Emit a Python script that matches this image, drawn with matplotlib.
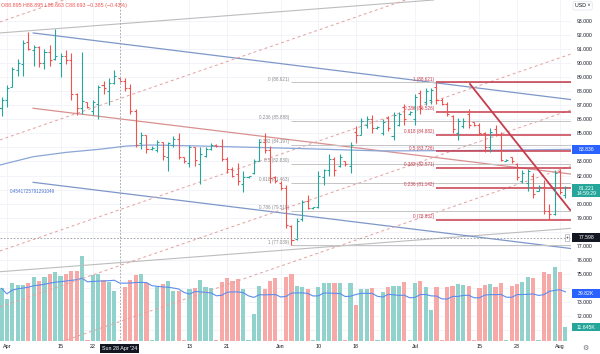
import numpy as np
import pandas as pd
import matplotlib
matplotlib.use('Agg')
import matplotlib.pyplot as plt
from matplotlib.collections import LineCollection
from matplotlib.patches import Rectangle
from matplotlib.transforms import blended_transform_factory as blend

plt.rcParams['font.family'] = ['Liberation Sans', 'DejaVu Sans']

# bar dates: weekdays only until 19 Apr, Sunday sessions afterwards
first = [pd.Timestamp('2024-03-28')]
early = list(pd.bdate_range('2024-04-01', '2024-04-19'))
late = [d for d in pd.date_range('2024-04-21', '2024-08-02') if d.weekday() != 5]
dates = first + early + late

opens = [86.8, 87.4, 88.3, 89.5, 89.9, 91.5, 90.9, 91.1, 90.0, 90.8,
         90.3, 90.0, 90.5, 90.2, 87.8, 86.8, 87.2, 86.6, 87.1, 88.4,
         88.0, 88.6, 88.895, 88.7, 88.2, 86.6, 84.3, 84.9, 83.9, 83.8,
         84.4, 83.3, 84.2, 84.6, 83.3, 82.9, 84.0, 82.8, 83.4, 83.9,
         84.2, 84.1, 83.2, 82.5, 82.1, 81.4, 81.9, 82.2, 83.0, 84.4,
         83.8, 81.9, 81.5, 81.1, 78.4, 77.5, 78.9, 80.2, 79.7, 79.8,
         81.9, 82.4, 83.2, 82.7, 83.0, 82.7, 85.1, 84.9, 85.6, 86.0,
         85.4, 85.0, 86.1, 84.8, 85.6, 86.9, 86.4, 86.0, 87.9, 87.2,
         87.4, 88.3, 87.4, 87.1, 86.2, 85.0, 85.5, 86.4, 85.8, 85.6,
         85.0, 84.0, 85.3, 84.9, 83.0, 83.3, 82.8, 81.6, 81.5, 82.0,
         80.9, 81.2, 79.5, 79.3, 82.3, 80.6]
highs = [87.6, 88.4, 89.7, 90.3, 91.6, 92.2, 91.3, 91.2, 91.0, 91.3,
         92.4, 90.7, 90.9, 90.7, 87.9, 90.8, 87.2, 87.4, 88.4, 88.7,
         88.9, 89.5, 88.895, 88.9, 88.5, 86.7, 85.1, 84.9, 84.1, 84.5,
         84.4, 84.4, 84.8, 85.0, 83.35, 84.2, 84.0, 84.0, 84.0, 84.3,
         84.25, 84.6, 83.3, 82.6, 82.9, 82.3, 82.0, 83.2, 84.6, 85.0,
         84.1, 82.0, 81.6, 81.3, 78.5, 79.0, 80.3, 80.6, 79.8, 82.3,
         82.5, 83.5, 83.3, 83.5, 83.0, 84.4, 85.5, 86.1, 86.2, 86.3,
         85.5, 86.0, 86.2, 86.5, 86.5, 87.1, 86.6, 87.8, 88.1, 88.2,
         88.2, 88.621, 87.5, 87.25, 86.3, 86.1, 86.1, 86.7, 85.8, 85.7,
         85.1, 85.4, 85.6, 85.1, 83.2, 83.35, 82.9, 82.4, 82.5, 82.2,
         81.3, 81.7, 80.0, 82.4, 82.5, 81.25]
lows = [86.2, 86.9, 88.3, 89.1, 89.1, 90.9, 89.8, 89.7, 89.6, 89.8,
        90.2, 89.0, 89.9, 87.4, 86.3, 86.4, 86.8, 86.3, 86.0, 87.8,
        87.0, 88.5, 88.663, 88.0, 86.4, 84.0, 83.9, 83.6, 83.8, 83.7,
        83.1, 82.3, 84.0, 83.2, 82.9, 82.6, 82.7, 81.4, 83.3, 83.8,
        84.0, 83.0, 82.2, 81.9, 81.3, 80.8, 81.8, 82.1, 83.0, 83.6,
        81.5, 81.5, 81.0, 78.3, 77.04, 77.4, 78.8, 79.6, 79.6, 79.7,
        81.3, 82.0, 82.0, 82.6, 82.7, 82.2, 84.3, 84.9, 85.4, 85.0,
        85.3, 84.9, 85.2, 84.5, 85.5, 85.6, 86.3, 85.6, 86.4, 87.0,
        87.1, 87.1, 87.0, 86.2, 85.0, 84.5, 85.4, 85.4, 85.5, 84.9,
        83.7, 83.7, 84.8, 83.0, 83.0, 82.9, 81.7, 81.45, 80.9, 80.4,
        80.9, 79.3, 78.832, 79.2, 80.7, 80.4]
closes = [87.4, 88.2, 89.6, 90.0, 91.4, 91.0, 91.1, 90.0, 90.8, 90.2,
          90.5, 90.5, 90.2, 87.8, 86.8, 87.3, 86.9, 87.2, 88.3, 88.2,
          88.6, 89.078, 88.693, 88.2, 86.6, 84.2, 84.9, 83.9, 83.95, 84.4,
          83.4, 84.3, 84.6, 83.3, 83.0, 84.0, 83.1, 83.5, 83.9, 84.2,
          84.1, 83.2, 82.5, 82.0, 81.6, 81.9, 82.0, 83.0, 84.4, 83.8,
          81.8, 81.6, 81.1, 78.5, 77.4, 78.8, 80.1, 79.7, 79.75, 82.0,
          82.4, 83.2, 82.4, 83.3, 82.8, 84.2, 84.9, 85.9, 86.0, 85.4,
          85.45, 85.8, 85.4, 86.3, 86.4, 86.0, 86.5, 87.6, 86.8, 88.0,
          88.1, 87.4, 87.1, 86.4, 85.3, 85.9, 85.9, 85.6, 85.6, 85.0,
          84.0, 85.1, 84.9, 83.1, 83.1, 83.0, 81.9, 82.2, 82.3, 80.7,
          81.2, 79.5, 79.3, 82.2, 80.8, 81.221]
volume_k = [43.9, 34.7, 48.6, 46.7, 46.7, 48.6, 53.0, 50.3, 53.6, 55.8,
            57.2, 54.2, 56.0, 58.6, 58.3, 71.0, 1.0, 55.0, 56.0, 50.8,
            49.4, 41.9, 1.0, 45.3, 50.8, 55.0, 55.6, 48.0, 1.0, 45.3,
            47.5, 49.7, 41.9, 41.9, 1.0, 43.0, 44.4, 50.8, 44.7, 43.9,
            1.0, 49.4, 52.8, 50.3, 51.4, 43.0, 1.0, 22.5, 45.8, 43.0,
            50.3, 52.2, 1.0, 53.0, 55.6, 45.8, 44.7, 43.0, 1.0, 45.3,
            48.6, 48.6, 48.0, 48.0, 1.0, 48.0, 30.0, 43.0, 43.0, 44.0,
            1.0, 40.6, 45.3, 45.8, 46.0, 49.0, 1.0, 48.6, 50.3, 45.3,
            25.8, 45.3, 1.0, 44.7, 45.8, 47.5, 46.7, 45.8, 1.0, 43.9,
            46.7, 47.5, 45.3, 48.6, 1.0, 45.8, 47.2, 49.4, 53.6, 52.2,
            1.0, 57.2, 55.8, 61.4, 57.2, 11.645]

# long moving average (bar index, price)
ma_idx = [-0.3, 5.9, 12.1, 18.3, 23.3, 27.7, 37.0, 53.7, 70.5, 87.2, 106.0]
ma_val = [82.75, 83.34, 83.65, 83.87, 84.10, 84.17, 84.10, 83.94, 83.75, 83.78, 83.86]

# drawings, anchors as (bar index, price)
gray_x = [-0.3, 106.0]
gray_upper = [92.13, 95.21]
gray_lower = [75.17, 78.25]
chan_x = [5.9, 106.0]
blue_upper = [92.13, 87.40]
blue_lower = [81.52, 76.82]
pink_mid = [86.78, 82.11]
dash_x = [-0.3, 106.0]
dash_lines = [(92.91, 106.9), (84.53, 98.52), (76.64, 90.63), (72.67, 86.66), (68.69, 82.68)]
red_trend_x = [87.24, 105.9]
red_trend_y = [88.50, 79.55]

fibA_levels = [0, 0.236, 0.382, 0.5, 0.618, 0.786, 1]
fibA_prices = [88.621, 85.888, 84.197, 82.830, 81.463, 79.518, 77.039]
fibA_start = 54
fibB_levels = [1, 0.786, 0.618, 0.5, 0.382, 0.236, 0]
fibB_prices = [88.621, 86.526, 84.882, 83.726, 82.571, 81.142, 78.832]
fibB_start = 81

cross_idx = 22
cross_price = 77.598
ma_last = 83.836
vol_ma_last = 39.82
countdown = '14:59:29'

tick_dates = ['2024-04-01', '2024-04-15', '2024-04-22', '2024-05-13', '2024-05-21',
              '2024-06-02', '2024-06-10', '2024-06-18', '2024-07-01', '2024-07-15',
              '2024-07-23', '2024-08-01']
tick_labels = ['Apr', '15', '22', '13', '21', 'Jun', '10', '18', 'Jul', '15', '23', 'Aug']
price_grid = list(range(71, 94))
# scale labels that the tags on the price scale cover
covered = [84, 81, 78, 74, 71]
price_labels = [p for p in price_grid if p not in covered]

TEAL = '#26a69a'
RED = '#ef5350'
XMIN, XMAX = -0.28, 106.05

idx = np.arange(len(dates))
o, h, l, c = map(np.array, (opens, highs, lows, closes))
up = c >= o
tick_pos = [dates.index(pd.Timestamp(d)) for d in tick_dates]

fig = plt.figure(figsize=(6, 3.54), dpi=100)
rect = [0, 13 / 354, 571 / 600, 341 / 354]
axv = fig.add_axes(rect)
ax = fig.add_axes(rect, facecolor='none')
for a in (axv, ax):
    a.set_xlim(XMIN, XMAX)
    for s in a.spines.values():
        s.set_visible(False)
ax.set_ylim(70.25, 94.47)
axv.set_ylim(0, 284.2)

# grid under everything
grid_tr = blend(axv.transAxes, ax.transData)
for p in price_grid:
    axv.plot([0, 1], [p, p], transform=grid_tr, color='#f0f3fa', lw=0.6, zorder=0)
for x in tick_pos:
    axv.axvline(x, color='#f0f3fa', lw=0.6, zorder=0)
axv.set_xticks([])
axv.set_yticks([])

# volume + its moving average
axv.bar(idx, volume_k, width=0.78, color=np.where(up, '#92d2cc', '#f7a9a7'), zorder=2)
vol_ma = pd.Series(volume_k).rolling(20, min_periods=1).mean()
axv.plot(idx, vol_ma, color='#5b8def', lw=0.8, zorder=3)

# drawings
ax.axline((gray_x[0], gray_upper[0]), (gray_x[1], gray_upper[1]), color='#bdbdbd', lw=0.8)
ax.axline((gray_x[0], gray_lower[0]), (gray_x[1], gray_lower[1]), color='#bdbdbd', lw=0.8)
ax.plot(chan_x, blue_upper, color='#7e97c8', lw=0.9)
ax.plot(chan_x, blue_lower, color='#7e97c8', lw=0.9)
ax.plot(chan_x, pink_mid, color='#d99090', lw=0.9)
for y0, y1 in dash_lines:
    ax.plot(dash_x, [y0, y1], color='#e3a0a0', lw=0.7, ls=(0, (3, 3)))
ax.plot(ma_idx, ma_val, color='#8aa5d6', lw=0.9)

ax.hlines(fibA_prices, fibA_start, XMAX, color='#c4c4c4', lw=0.7)
for lv, pr in zip(fibA_levels, fibA_prices):
    ax.text(fibA_start - 0.4, pr + 0.05, f'{lv:g} ({pr:.3f})', ha='right', va='bottom',
            fontsize=3.3, color='#8c8c8c')
ax.hlines(fibB_prices, fibB_start, XMAX, color='#c73b4c', lw=1.1)
for lv, pr in zip(fibB_levels, fibB_prices):
    ax.text(fibB_start - 0.4, pr + 0.05, f'{lv:g} ({pr:.3f})', ha='right', va='bottom',
            fontsize=3.3, color='#c73b4c')
ax.plot(red_trend_x, red_trend_y, color='#c73b4c', lw=1.3)

ax.text(1.6, 80.9, '0.4541725791291049', fontsize=3.3, color='#4a6fd0', va='center')

# OHLC bars
cols = np.where(up, TEAL, RED)
segs = [[(i, lo), (i, hi)] for i, lo, hi in zip(idx, l, h)]
segs += [[(i - 0.38, op), (i, op)] for i, op in zip(idx, o)]
segs += [[(i, cl), (i + 0.38, cl)] for i, cl in zip(idx, c)]
ax.add_collection(LineCollection(segs, colors=list(cols) * 3, linewidths=0.8, zorder=4))

# crosshair
ax.axvline(cross_idx, color='#9598a1', lw=0.6, ls=(0, (2, 2)), zorder=5)
ax.axhline(cross_price, color='#9598a1', lw=0.6, ls=(0, (2, 2)), zorder=5)

# axes labels
ax.yaxis.tick_right()
ax.set_yticks(price_labels)
ax.set_yticklabels([f'{p:.3f}' for p in price_labels])
ax.tick_params(axis='y', length=0, labelsize=3.7, pad=4, labelcolor='#131722')
ax.set_xticks(tick_pos)
ax.set_xticklabels(tick_labels)
ax.tick_params(axis='x', length=0, labelsize=3.9, pad=2.5, labelcolor='#131722')

# price scale tags
ptr = blend(ax.transAxes, ax.transData)
vtr = blend(ax.transAxes, axv.transData)


def tag(y, text, fc, tr, y0, y1, size=3.7):
    ax.add_patch(Rectangle((1.002, y0), 0.06, y1 - y0, transform=tr, fc=fc, ec='none',
                           clip_on=False, zorder=9))
    ax.text(1.027, y, text, transform=tr, ha='center', va='center', fontsize=size,
            color='white', clip_on=False, zorder=10, linespacing=1.1)


tag(ma_last, f'{ma_last:.3f}', '#2962ff', ptr, ma_last - 0.32, ma_last + 0.32)
tag(c[-1] - 0.3, f'{c[-1]:.3f}\n{countdown}', TEAL, ptr, c[-1] - 0.74, c[-1] + 0.16)
tag(cross_price, f'{cross_price:.3f}', '#131722', ptr, cross_price - 0.32, cross_price + 0.32)
ax.text(105.3, cross_price, '+', fontsize=3.5, ha='center', va='center', color='#131722',
        bbox=dict(boxstyle='square,pad=0.15', fc='white', ec='#9598a1', lw=0.4), zorder=10)
tag(vol_ma_last, f'{vol_ma_last:.2f}K', '#2962ff', vtr, vol_ma_last - 3.6, vol_ma_last + 3.6)
tag(volume_k[-1], f'{volume_k[-1]:.3f}K', TEAL, vtr, volume_k[-1] - 3.6, volume_k[-1] + 3.6)

# crosshair date tooltip
ax.text(cross_idx, -0.021, dates[cross_idx].strftime("%a %d %b '%y"),
        transform=blend(ax.transData, ax.transAxes), ha='center', va='center',
        fontsize=3.9, color='white', clip_on=False, zorder=10,
        bbox=dict(boxstyle='square,pad=0.35', fc='#131722', ec='none'))

# legend line at the top
chg = c[cross_idx] - c[cross_idx - 1]
head = (f'O{o[cross_idx]:.3f} H{h[cross_idx]:.3f} L{l[cross_idx]:.3f} C{c[cross_idx]:.3f} '
        f'{chg:+.3f} ({chg / c[cross_idx - 1] * 100:+.2f}%)').replace('-', '\u2212')
fig.text(0.002, 0.984, head, fontsize=3.8, color=RED, ha='left', va='center')
fig.text(0.958, 0.984, 'USD \u02c5', fontsize=3.8, color='#131722', ha='left', va='center',
         bbox=dict(boxstyle='round,pad=0.35', fc='white', ec='#e0e3eb', lw=0.5))
fig.text(0.975, 0.017, '\u2699', fontsize=5, color='#6a6d78', ha='center', va='center')

fig.savefig('out.png', dpi=100, facecolor='white')
